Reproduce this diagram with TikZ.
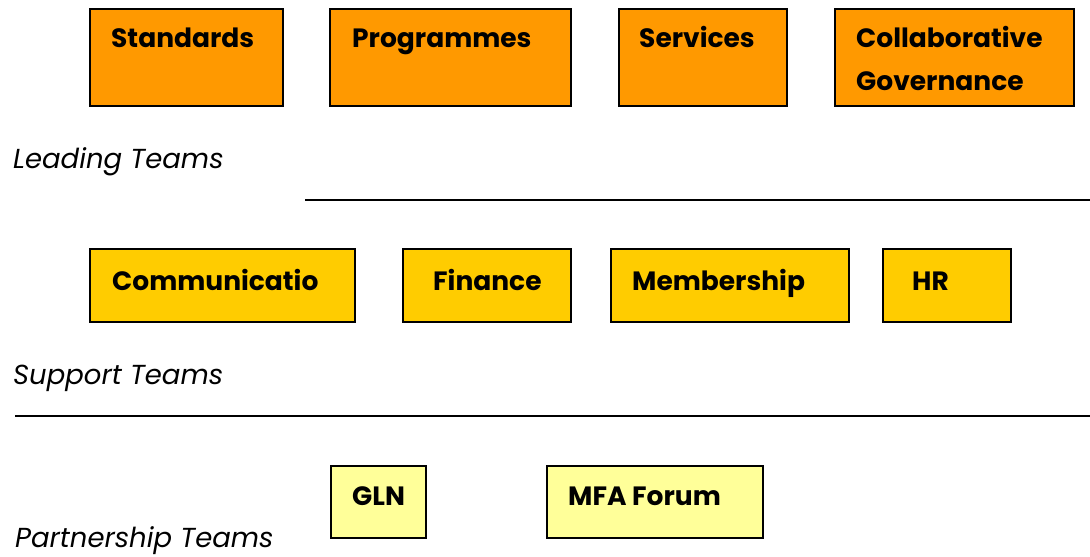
\documentclass[tikz,border=0pt]{standalone}
\usepackage{fontspec}
\setmainfont{Poppins}
\definecolor{lead}{HTML}{FF9900}
\definecolor{supp}{HTML}{FFCC00}
\definecolor{part}{HTML}{FFFF99}
\begin{document}
\begin{tikzpicture}[x=1pt,y=-1pt,
  box/.style={draw=black,line width=2pt,anchor=north west,inner sep=0pt},
  leadbox/.style={box,fill=lead},
  suppbox/.style={box,fill=supp},
  partbox/.style={box,fill=part},
  btxt/.style={anchor=base west,inner sep=0pt,font=\fontsize{26.5}{30}\selectfont\bfseries},
  itxt/.style={anchor=base west,inner sep=0pt,font=\fontsize{27.5}{32}\selectfont\itshape},
  rule/.style={line width=2pt}]
\useasboundingbox (0,0) rectangle (1090,557);
% leading
\node[leadbox,minimum width=193pt,minimum height=97pt] (std) at (89,8) {};
\node[leadbox,minimum width=241pt,minimum height=97pt] (prg) at (329,8) {};
\node[leadbox,minimum width=168pt,minimum height=97pt] (srv) at (618,8) {};
\node[leadbox,minimum width=239pt,minimum height=97pt] (col) at (834,8) {};
\node[btxt] (stdt) at (111,47) {Standards};
\node[btxt] (prgt) at (352,47) {Programmes};
\node[btxt] (srvt) at (639,47) {Services};
\node[btxt] (colt) at (856,47) {Collaborative};
\node[btxt] (colt2) at (856,90) {Governance};
\node[itxt] (lt) at (13,168) {Leading Teams};
\coordinate (l1a) at (305,200);
\coordinate (l1b) at (1090,200);
\draw[rule] (l1a) -- (l1b);
% support
\node[suppbox,minimum width=265pt,minimum height=73pt] (com) at (89,248) {};
\node[suppbox,minimum width=168pt,minimum height=73pt] (fin) at (402,248) {};
\node[suppbox,minimum width=238pt,minimum height=73pt] (mem) at (610,248) {};
\node[suppbox,minimum width=128pt,minimum height=73pt] (hr) at (882,248) {};
\node[btxt] (comt) at (112,290) {Communicatio};
\node[btxt] (fint) at (433,290) {Finance};
\node[btxt] (memt) at (632,290) {Membership};
\node[btxt] (hrt) at (912,290) {HR};
\node[itxt] (st) at (13,384) {Support Teams};
\coordinate (l2a) at (15,416);
\coordinate (l2b) at (1090,416);
\draw[rule] (l2a) -- (l2b);
% partnership
\node[partbox,minimum width=95pt,minimum height=72pt] (gln) at (330,465) {};
\node[partbox,minimum width=216pt,minimum height=72pt] (mfa) at (546,465) {};
\node[btxt] (glnt) at (352,505) {GLN};
\node[btxt] (mfat) at (568,505) {MFA Forum};
\node[itxt] (pt) at (15,547) {Partnership Teams};
\end{tikzpicture}
\end{document}
